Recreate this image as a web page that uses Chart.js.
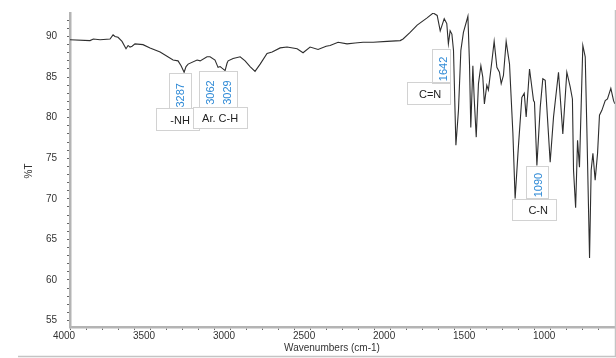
<!DOCTYPE html>
<html>
<head>
<meta charset="utf-8">
<script src="https://cdn.jsdelivr.net/npm/chart.js@4.4.1/dist/chart.umd.min.js"></script>
<style>
  html, body { margin: 0; padding: 0; background: #fff; }
  canvas { display: block; }
</style>
</head>
<body>
<canvas id="espectro" width="616" height="358"></canvas>
<script>
// =======================
// DATOS (leidos del espectro)
// =======================
const wavenumbers = [
  4000, 3875, 3854, 3812, 3750, 3731, 3719, 3700, 3675, 3650, 3637, 3625, 3612, 3594, 3544, 3500,
  3437, 3356, 3325, 3306, 3287, 3275, 3262, 3206, 3187, 3144, 3125, 3094, 3075, 3062, 3050, 3031,
  3019, 3012, 2981, 2937, 2906, 2875, 2844, 2812, 2769, 2737, 2687, 2644, 2581, 2544, 2500, 2450,
  2400, 2375, 2325, 2269, 2219, 2169, 2106, 2019, 1937, 1919, 1875, 1831, 1769, 1731, 1706, 1687,
  1662, 1646, 1636, 1625, 1614, 1604, 1589, 1573, 1558, 1542, 1514, 1504, 1496, 1483, 1475, 1462,
  1448, 1433, 1421, 1411, 1396, 1386, 1364, 1350, 1333, 1317, 1306, 1292, 1275, 1254, 1233, 1219,
  1200, 1177, 1162, 1150, 1129, 1104, 1098, 1083, 1062, 1046, 1031, 1021, 1000, 979, 948, 921,
  896, 875, 861, 854, 841, 829, 817, 796, 781, 771, 754, 744, 733, 719, 704, 692,
  677, 656, 642, 621, 604, 596
];
const transmittance = [
  89.6, 89.5, 89.7, 89.6, 89.7, 90.2, 90.0, 89.9, 89.4, 88.5, 88.9, 88.7, 88.8, 89.1, 89.0, 88.6,
  88.1, 87.1, 87.0, 86.4, 85.6, 86.3, 86.6, 87.1, 87.0, 87.5, 87.5, 87.1, 86.2, 86.3, 86.1, 85.8,
  86.7, 87.0, 87.3, 87.5, 87.0, 86.3, 85.7, 86.6, 87.9, 88.1, 88.6, 88.7, 88.5, 88.0, 88.7, 88.4,
  88.8, 88.9, 89.3, 89.1, 89.2, 89.3, 89.3, 89.4, 89.5, 89.7, 90.5, 91.4, 92.3, 92.9, 92.6, 90.7,
  92.2, 91.6, 89.1, 90.7, 90.3, 88.3, 76.6, 80.9, 88.3, 90.5, 92.5, 86.6, 78.8, 86.4, 82.5, 77.6,
  84.2, 86.4, 85.0, 81.7, 84.0, 83.4, 87.0, 89.4, 86.2, 85.6, 84.2, 85.2, 89.4, 86.6, 78.1, 70.0,
  76.0, 82.5, 83.0, 80.1, 86.0, 82.1, 81.9, 74.1, 81.3, 84.8, 84.6, 81.3, 74.5, 80.1, 85.6, 78.0,
  85.6, 83.8, 82.3, 73.5, 68.9, 77.2, 73.9, 88.9, 87.5, 78.8, 62.7, 73.5, 75.6, 72.3, 75.6, 80.3,
  80.9, 82.1, 82.3, 83.6, 82.1, 81.7
];

const xTickLabels = [4000, 3500, 3000, 2500, 2000, 1500, 1000];
const yTickLabels = [55, 60, 65, 70, 75, 80, 85, 90];
const peakLabels = ["3287", "3062", "3029", "1642", "1090"];
const bandLabels = ["-NH", "Ar. C-H", "C=N", "C-N"];

// cajas de anotacion en coordenadas del espectro (cm-1, %T)
const anotaciones = [
  { banda: 0, picos: [0], xPicos: [3309], yPicos: 82.75, xBanda: 3312, yBanda: 79.55,
    cajaPico: [3381, 3244, 85.45, 81.15], cajaBanda: [3462, 3194, 81.15, 78.44] },
  { banda: 1, picos: [1, 2], xPicos: [3121, 3014], yPicos: 83.1, xBanda: 3062, yBanda: 79.9,
    cajaPico: [3194, 2956, 85.7, 81.3], cajaBanda: [3231, 2894, 81.3, 78.7] },
  { banda: 2, picos: [3], xPicos: [1661], yPicos: 86.0, xBanda: 1750, yBanda: 82.75,
    cajaPico: [1739, 1625, 88.5, 84.35], cajaBanda: [1896, 1625, 84.35, 81.64] },
  { banda: 3, picos: [4], xPicos: [1073], yPicos: 71.7, xBanda: 1075, yBanda: 68.5,
    cajaPico: [1152, 1014, 74.0, 70.0], cajaBanda: [1237, 962, 70.0, 67.38] }
];

const FUENTE = "'Liberation Sans', Arial, sans-serif";
Chart.defaults.font.family = FUENTE;

function caja(ctx, x, y, c, fill) {
  const x1 = x.getPixelForValue(c[0]), x2 = x.getPixelForValue(c[1]);
  const y1 = y.getPixelForValue(c[2]), y2 = y.getPixelForValue(c[3]);
  if (fill) {
    ctx.fillStyle = "#fff";
    ctx.fillRect(x1, y1, x2 - x1, y2 - y1);
  } else {
    ctx.strokeRect(Math.round(x1) + 0.5, Math.round(y1) + 0.5, Math.round(x2 - x1), Math.round(y2 - y1));
  }
}

// =======================
// PLUGINS
// =======================
const notas = {
  id: "notas",
  afterDatasetsDraw(chart) {
    const { ctx, scales: { x, y } } = chart;
    ctx.save();
    ctx.strokeStyle = "#d2d2d2";
    ctx.lineWidth = 1;
    anotaciones.forEach(a => {
      caja(ctx, x, y, a.cajaBanda, true);
      caja(ctx, x, y, a.cajaPico, true);
      caja(ctx, x, y, a.cajaBanda, false);
      caja(ctx, x, y, a.cajaPico, false);
    });
    ctx.font = "11px " + FUENTE;
    ctx.textAlign = "center";
    ctx.textBaseline = "middle";
    anotaciones.forEach(a => {
      a.picos.forEach((p, i) => {
        ctx.save();
        ctx.translate(x.getPixelForValue(a.xPicos[i]), y.getPixelForValue(a.yPicos));
        ctx.rotate(-Math.PI / 2);
        ctx.fillStyle = "#2f8ad6";
        ctx.fillText(peakLabels[p], 0, 0);
        ctx.restore();
      });
      ctx.fillStyle = "#222";
      ctx.fillText(bandLabels[a.banda], x.getPixelForValue(a.xBanda), y.getPixelForValue(a.yBanda));
    });
    ctx.restore();
  }
};

const marco = {
  id: "marco",
  afterDraw(chart) {
    const { ctx } = chart;
    ctx.save();
    ctx.strokeStyle = "#c4c4c4";
    ctx.lineWidth = 1.5;
    ctx.beginPath();
    ctx.moveTo(615.5, 10);
    ctx.lineTo(615.5, 356.5);
    ctx.lineTo(18, 356.5);
    ctx.stroke();

    ctx.fillStyle = "#333";
    ctx.font = "10px " + FUENTE;
    ctx.textAlign = "center";
    ctx.textBaseline = "middle";
    ctx.fillText("Wavenumbers (cm-1)", 332, 348);
    ctx.translate(29, 171);
    ctx.rotate(-Math.PI / 2);
    ctx.fillText("%T", 0, 0);
    ctx.restore();
  }
};

// =======================
// GRAFICA
// =======================
const puntos = wavenumbers.map((w, i) => ({ x: w, y: transmittance[i] }));

new Chart(document.getElementById("espectro"), {
  type: "line",
  data: {
    datasets: [{
      data: puntos,
      borderColor: "#2e2e2e",
      borderWidth: 1.1,
      pointRadius: 0,
      tension: 0,
      fill: false
    }]
  },
  options: {
    responsive: false,
    animation: false,
    events: [],
    devicePixelRatio: 1,
    layout: { padding: { top: 13, right: 1, bottom: 0, left: 0 } },
    plugins: { legend: { display: false }, tooltip: { enabled: false } },
    scales: {
      x: {
        type: "linear",
        reverse: true,
        min: 595,
        max: 4000,
        afterBuildTicks: s => {
          const t = [];
          for (let v = 700; v <= 4000; v += 100) t.push({ value: v });
          s.ticks = t;
        },
        afterFit: s => { s.height = 31; s.paddingLeft = 0; s.paddingRight = 0; },
        ticks: {
          autoSkip: false,
          maxRotation: 0,
          minRotation: 0,
          padding: 0,
          labelOffset: -6,
          color: "#333",
          font: { size: 10 },
          callback: v => xTickLabels.includes(v) ? String(v) : ""
        },
        grid: { drawOnChartArea: false, tickLength: 3, color: "#666", lineWidth: 1 },
        border: { color: "#b4b4b4", width: 2.5 }
      },
      y: {
        min: 54.2,
        max: 92.9,
        afterBuildTicks: s => {
          const t = [];
          for (let v = 55; v <= 92; v++) t.push({ value: v });
          s.ticks = t;
        },
        afterFit: s => { s.width = 70; s.paddingTop = 0; s.paddingBottom = 0; },
        ticks: {
          autoSkip: false,
          padding: 10,
          color: "#333",
          font: { size: 10 },
          callback: v => yTickLabels.includes(v) ? String(v) : ""
        },
        grid: { drawOnChartArea: false, tickLength: 3, color: "#666", lineWidth: 1 },
        border: { color: "#b4b4b4", width: 2.5 }
      }
    }
  },
  plugins: [notas, marco]
});
</script>
</body>
</html>
